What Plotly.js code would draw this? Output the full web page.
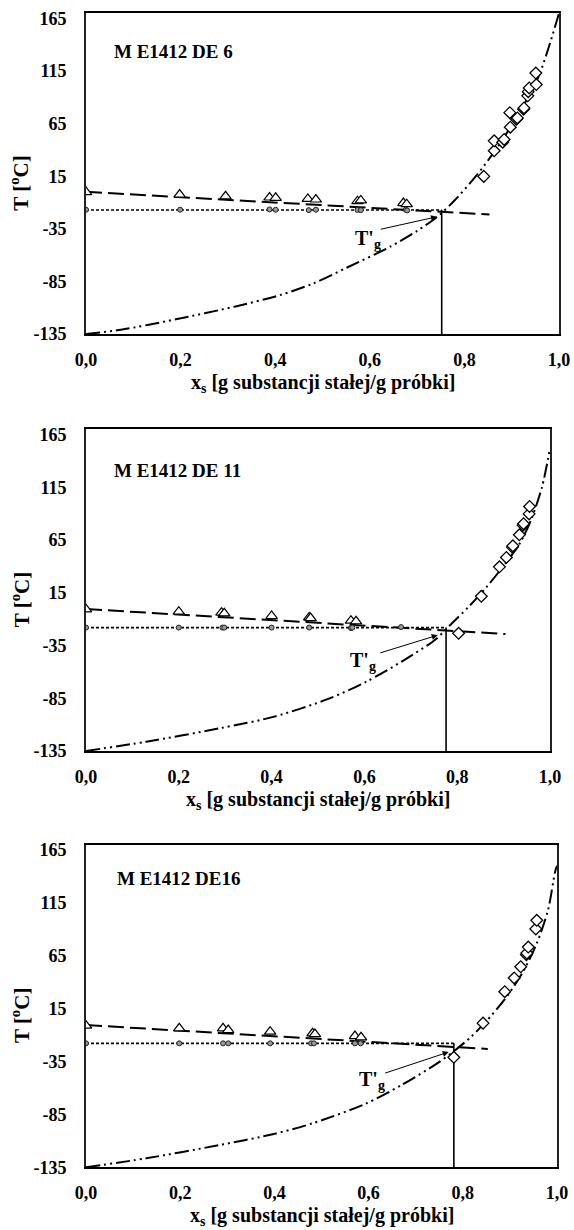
<!DOCTYPE html>
<html><head><meta charset="utf-8">
<script src="https://cdn.plot.ly/plotly-3.0.1.min.js"></script>
<style>html,body{margin:0;padding:0;background:#fff}</style>
</head><body><div id="chart" style="width:574px;height:1230px"></div>
<script>
// ---- tick labels ----
const xTickVals = [0, 0.2, 0.4, 0.6, 0.8, 1.0];
const xTickText = ['0,0', '0,2', '0,4', '0,6', '0,8', '1,0'];
const yTickVals = [-135, -85, -35, 15, 65, 115, 165];
const yTickText = ['-135', '-85', '-35', '15', '65', '115', '165'];
const panelLabels = ['M E1412 DE 6', 'M E1412 DE 11', 'M E1412 DE16'];
const xTitle = 'x<sub>s</sub> [g substancji stałej/g próbki]';
const yTitle = 'T [<sup>o</sup>C]';
const tgLabel = "T'<sub>g</sub>";

// ---- panel 1 : DE 6 ----
const tri_x1 = [0, 0.198, 0.295, 0.388, 0.401, 0.469, 0.486, 0.574, 0.581, 0.671, 0.678];
const tri_y1 = [0.0, -2.4, -4.0, -5.2, -5.5, -6.5, -7.1, -8.7, -8.0, -10.5, -11.5];
const trend_x1 = [0, 0.853];
const trend_y1 = [0.2, -21.4];
const circ_x1 = [0, 0.199, 0.388, 0.401, 0.471, 0.486, 0.574, 0.581, 0.676, 0.679];
const circ_y1 = [-16.8, -16.8, -16.5, -16.8, -17.2, -16.8, -17.0, -17.2, -16.8, -17.5];
const onset_x1 = [0, 0.752];
const onset_y1 = [-17, -17];
const tgv_x1 = [0.752, 0.752];
const tgv_y1 = [-135, -17];
const dia_x1 = [0.841, 0.863, 0.863, 0.881, 0.884, 0.897, 0.896, 0.910, 0.912, 0.925, 0.926, 0.934, 0.935, 0.937, 0.951, 0.952];
const dia_y1 = [14.9, 39.2, 48.7, 47.4, 50.0, 61.7, 75.5, 69.3, 70.5, 78.8, 80.0, 91.5, 95.5, 99.0, 113.2, 102.2];
const curve_x1 = [0, 0.074, 0.190, 0.314, 0.410, 0.480, 0.551, 0.643, 0.700, 0.744, 0.779, 0.826, 0.872, 0.919, 0.957, 1.0];
const curve_y1 = [-135, -131, -121, -109, -98, -87, -72, -52, -37, -23, -8, 16, 44, 78, 110, 170];
const arrow1 = {tx: 0.62, ty: -35.7, hx: 0.742, hy: -23.5, lx: 0.597, ly: -45};

// ---- panel 2 : DE 11 ----
const tri_x2 = [0, 0.2, 0.292, 0.298, 0.4, 0.481, 0.484, 0.571, 0.582];
const tri_y2 = [-0.7, -2.9, -3.8, -4.5, -7.0, -8.3, -9.0, -11.4, -12.0];
const trend_x2 = [0, 0.904];
const trend_y2 = [-0.4, -24.1];
const circ_x2 = [0, 0.2, 0.294, 0.298, 0.4, 0.481, 0.571, 0.574, 0.679];
const circ_y2 = [-18, -18, -18, -18, -18, -18, -18.5, -18, -17.5];
const onset_x2 = [0, 0.776];
const onset_y2 = [-18, -18];
const tgv_x2 = [0.776, 0.776];
const tgv_y2 = [-135, -18];
const dia_x2 = [0.803, 0.852, 0.891, 0.906, 0.919, 0.920, 0.934, 0.942, 0.943, 0.955, 0.956];
const dia_y2 = [-23.4, 11.7, 39.6, 48.5, 58.3, 59.5, 70.0, 79.1, 80.5, 89.8, 96.8];
const curve_x2 = [0, 0.130, 0.288, 0.406, 0.525, 0.604, 0.683, 0.754, 0.785, 0.825, 0.864, 0.904, 0.935, 0.959, 0.983, 1.0];
const curve_y2 = [-135, -126.2, -113.5, -102.4, -85.1, -69.3, -49.5, -29.0, -15.5, 1.9, 20.8, 42.9, 61.9, 84.0, 115.6, 152];
const arrow2 = {tx: 0.631, ty: -42.4, hx: 0.758, hy: -25.2, lx: 0.598, ly: -50};

// ---- panel 3 : DE 16 ----
const tri_x3 = [0, 0.198, 0.291, 0.302, 0.391, 0.481, 0.486, 0.571, 0.584];
const tri_y3 = [-1.1, -3.6, -3.6, -5.2, -6.8, -8.3, -9.0, -10.9, -12.1];
const trend_x3 = [0, 0.853];
const trend_y3 = [-0.5, -23.1];
const circ_x3 = [0, 0.198, 0.291, 0.302, 0.391, 0.478, 0.484, 0.571, 0.583];
const circ_y3 = [-17.8, -17.8, -17.8, -17.8, -17.8, -17.8, -17.8, -17.8, -17.8];
const onset_x3 = [0, 0.781];
const onset_y3 = [-17.8, -17.8];
const tgv_x3 = [0.781, 0.781];
const tgv_y3 = [-135, -17.8];
const dia_x3 = [0.781, 0.843, 0.889, 0.909, 0.923, 0.935, 0.936, 0.939, 0.955, 0.957];
const dia_y3 = [-31.0, 1.3, 31.0, 44.0, 54.6, 66.0, 67.5, 73.2, 90.4, 98.5];
const curve_x3 = [0, 0.128, 0.283, 0.399, 0.484, 0.593, 0.671, 0.748, 0.783, 0.818, 0.849, 0.888, 0.926, 0.957, 0.981, 0.996, 1.0];
const curve_y3 = [-135, -126.5, -114, -103.5, -93, -75, -57, -36, -24.5, -11.5, 2.7, 23.2, 48.4, 76.7, 108.3, 144.5, 150];
const arrow3 = {tx: 0.632, ty: -46.4, hx: 0.770, hy: -26.0, lx: 0.607, ly: -53};

const labelPos = [{x: 0.054, y: 134}, {x: 0.055, y: 131}, {x: 0.062, y: 138}];

const panels = [
  {tri_x: tri_x1, tri_y: tri_y1, trend_x: trend_x1, trend_y: trend_y1, circ_x: circ_x1, circ_y: circ_y1,
   onset_x: onset_x1, onset_y: onset_y1, tgv_x: tgv_x1, tgv_y: tgv_y1, dia_x: dia_x1, dia_y: dia_y1,
   curve_x: curve_x1, curve_y: curve_y1, arrow: arrow1},
  {tri_x: tri_x2, tri_y: tri_y2, trend_x: trend_x2, trend_y: trend_y2, circ_x: circ_x2, circ_y: circ_y2,
   onset_x: onset_x2, onset_y: onset_y2, tgv_x: tgv_x2, tgv_y: tgv_y2, dia_x: dia_x2, dia_y: dia_y2,
   curve_x: curve_x2, curve_y: curve_y2, arrow: arrow2},
  {tri_x: tri_x3, tri_y: tri_y3, trend_x: trend_x3, trend_y: trend_y3, circ_x: circ_x3, circ_y: circ_y3,
   onset_x: onset_x3, onset_y: onset_y3, tgv_x: tgv_x3, tgv_y: tgv_y3, dia_x: dia_x3, dia_y: dia_y3,
   curve_x: curve_x3, curve_y: curve_y3, arrow: arrow3}
];

// ---- layout geometry (pixels) ----
const W = 574, H = 1230;
const boxes = [
  {l: 86, r: 559, t: 13.3, b: 334},
  {l: 86, r: 550, t: 429.3, b: 751},
  {l: 86, r: 557, t: 844.7, b: 1167.3}
];

const FONT = 'Liberation Serif, Times New Roman, serif';
const bold = s => '<b>' + s + '</b>';
const traces = [];
const annotations = [];
const layout = {
  width: W, height: H,
  margin: {l: 0, r: 0, t: 0, b: 0},
  paper_bgcolor: '#fff', plot_bgcolor: '#fff',
  showlegend: false,
  font: {family: FONT, color: '#000'},
  annotations: annotations
};

panels.forEach((p, i) => {
  const n = i + 1;
  const xa = n === 1 ? 'x' : 'x' + n;
  const ya = n === 1 ? 'y' : 'y' + n;
  const bx = boxes[i];
  layout[n === 1 ? 'xaxis' : 'xaxis' + n] = {
    domain: [bx.l / W, bx.r / W], anchor: ya, range: [0, 1],
    tickvals: xTickVals, ticktext: xTickText.map(bold),
    ticks: 'outside', ticklen: 8, tickcolor: 'rgba(0,0,0,0)',
    tickfont: {family: FONT, size: 18, color: '#000'},
    showgrid: false, zeroline: false, showline: true, linecolor: '#000', linewidth: 2, mirror: true,
    fixedrange: true
  };
  layout[n === 1 ? 'yaxis' : 'yaxis' + n] = {
    domain: [1 - bx.b / H, 1 - bx.t / H], anchor: xa, range: [-135, 170],
    tickvals: yTickVals, ticktext: yTickText.map(bold),
    ticks: 'outside', ticklen: 14, tickcolor: 'rgba(0,0,0,0)',
    tickfont: {family: FONT, size: 18, color: '#000'},
    showgrid: false, zeroline: false, showline: true, linecolor: '#222', linewidth: 2, mirror: true,
    fixedrange: true
  };

  // glass transition curve (dash-dot-dot)
  traces.push({x: p.curve_x, y: p.curve_y, xaxis: xa, yaxis: ya, mode: 'lines', type: 'scatter',
    line: {color: '#000', width: 2, dash: '14px,4px,2px,4px,2px,4px', shape: 'spline', smoothing: 0.8},
    hoverinfo: 'skip'});
  // melting trend (dashed)
  traces.push({x: p.trend_x, y: p.trend_y, xaxis: xa, yaxis: ya, mode: 'lines', type: 'scatter',
    line: {color: '#000', width: 2, dash: '16px,6px'}, hoverinfo: 'skip'});
  // onset line (dotted)
  traces.push({x: p.onset_x, y: p.onset_y, xaxis: xa, yaxis: ya, mode: 'lines', type: 'scatter',
    line: {color: '#000', width: 1.6, dash: '3px,2px'}, hoverinfo: 'skip'});
  // vertical line at x'g
  traces.push({x: p.tgv_x, y: p.tgv_y, xaxis: xa, yaxis: ya, mode: 'lines', type: 'scatter',
    line: {color: '#000', width: 1.6}, hoverinfo: 'skip'});
  // triangles
  traces.push({x: p.tri_x, y: p.tri_y, xaxis: xa, yaxis: ya, mode: 'markers', type: 'scatter',
    marker: {symbol: 'triangle-up', size: 10, color: '#fff', line: {color: '#000', width: 1.2}}});
  // circles
  traces.push({x: p.circ_x, y: p.circ_y, xaxis: xa, yaxis: ya, mode: 'markers', type: 'scatter',
    marker: {symbol: 'circle', size: 5, color: '#999', line: {color: '#222', width: 1}}});
  // diamonds
  traces.push({x: p.dia_x, y: p.dia_y, xaxis: xa, yaxis: ya, mode: 'markers', type: 'scatter',
    marker: {symbol: 'diamond', size: 9, color: '#fff', line: {color: '#000', width: 1.3}}});

  // panel label
  annotations.push({xref: xa, yref: ya, x: labelPos[i].x, y: labelPos[i].y, xanchor: 'left', yanchor: 'middle',
    text: bold(panelLabels[i]), showarrow: false, font: {family: FONT, size: 19, color: '#000'}});
  // arrow
  annotations.push({xref: xa, yref: ya, x: p.arrow.hx, y: p.arrow.hy, axref: xa, ayref: ya,
    ax: p.arrow.tx, ay: p.arrow.ty, text: '', showarrow: true, arrowhead: 2, arrowsize: 1.2,
    arrowwidth: 1, arrowcolor: '#000', standoff: 0, startstandoff: 0});
  // T'g label
  annotations.push({xref: xa, yref: ya, x: p.arrow.lx, y: p.arrow.ly, xanchor: 'center', yanchor: 'middle',
    text: bold(tgLabel), showarrow: false, font: {family: FONT, size: 20, color: '#000'}});
  // axis titles
  annotations.push({xref: 'paper', yref: 'paper', x: ((bx.l + bx.r) / 2) / W, y: 1 - (bx.b + 49) / H,
    xanchor: 'center', yanchor: 'middle', text: bold(xTitle), showarrow: false,
    font: {family: FONT, size: 20, color: '#000'}});
  annotations.push({xref: 'paper', yref: 'paper', x: 20 / W, y: 1 - ((bx.t + bx.b) / 2 + 10) / H,
    xanchor: 'center', yanchor: 'middle', textangle: -90, text: bold(yTitle), showarrow: false,
    font: {family: FONT, size: 21, color: '#000'}});
});

Plotly.newPlot('chart', traces, layout, {displayModeBar: false, staticPlot: true});
</script></body></html>
